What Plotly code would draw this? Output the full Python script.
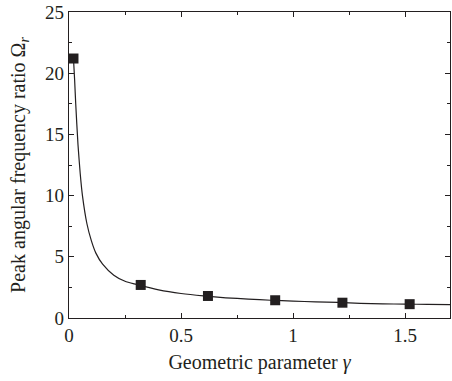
import plotly.graph_objects as go

# measured points
gamma_pts = [0.02, 0.32, 0.62, 0.92, 1.22, 1.52]
omega_pts = [21.2, 2.7, 1.8, 1.45, 1.25, 1.13]

# fitted curve
gamma_curve = [0.02, 0.025, 0.03, 0.04, 0.05, 0.06, 0.08, 0.1, 0.12, 0.15, 0.2, 0.25,
               0.3, 0.4, 0.5, 0.6, 0.7, 0.8, 0.9, 1.0, 1.1, 1.2, 1.3, 1.4, 1.5, 1.6, 1.7]
omega_curve = [21.2, 19.5, 17.5, 14.2, 11.8, 10.0, 7.7, 6.3, 5.3, 4.4, 3.5, 3.0,
               2.75, 2.3, 2.0, 1.8, 1.65, 1.55, 1.45, 1.38, 1.32, 1.27, 1.2, 1.16, 1.13, 1.12, 1.1]

x_ticks = [0, 0.5, 1, 1.5]
x_labels = ["0", "0.5", "1", "1.5"]
y_ticks = [0, 5, 10, 15, 20, 25]

font_family = "Liberation Serif"
ink = "#231f20"

fig = go.Figure()
fig.add_trace(go.Scatter(x=gamma_curve, y=omega_curve, mode="lines",
                         line=dict(color=ink, width=1.2, shape="spline", smoothing=0.6),
                         showlegend=False, hoverinfo="skip"))
fig.add_trace(go.Scatter(x=gamma_pts, y=omega_pts, mode="markers",
                         marker=dict(symbol="square", size=10, color=ink),
                         showlegend=False))

axis_common = dict(showgrid=False, zeroline=False, showline=True, linecolor=ink, linewidth=1.3,
                   mirror="ticks", ticks="inside", tickcolor=ink, ticklen=5, tickwidth=1,
                   tickfont=dict(family=font_family, size=19, color=ink))

fig.update_xaxes(range=[0, 1.7], tickvals=x_ticks, ticktext=x_labels,
                 minor=dict(dtick=0.25, ticks="inside", ticklen=3, tickcolor=ink),
                 title=dict(text="Geometric parameter <i>γ</i>",
                            font=dict(family=font_family, size=20, color=ink), standoff=10),
                 **axis_common)
fig.update_yaxes(range=[0, 25], tickvals=y_ticks,
                 minor=dict(dtick=2.5, ticks="inside", ticklen=3, tickcolor=ink),
                 title=dict(text="Peak angular frequency ratio Ω<sub><i>r</i></sub>",
                            font=dict(family=font_family, size=20, color=ink), standoff=14),
                 **axis_common)

fig.update_layout(width=452, height=381, margin=dict(l=69, r=2, t=12, b=63),
                  plot_bgcolor="white", paper_bgcolor="white")

fig.write_html("out.html")
